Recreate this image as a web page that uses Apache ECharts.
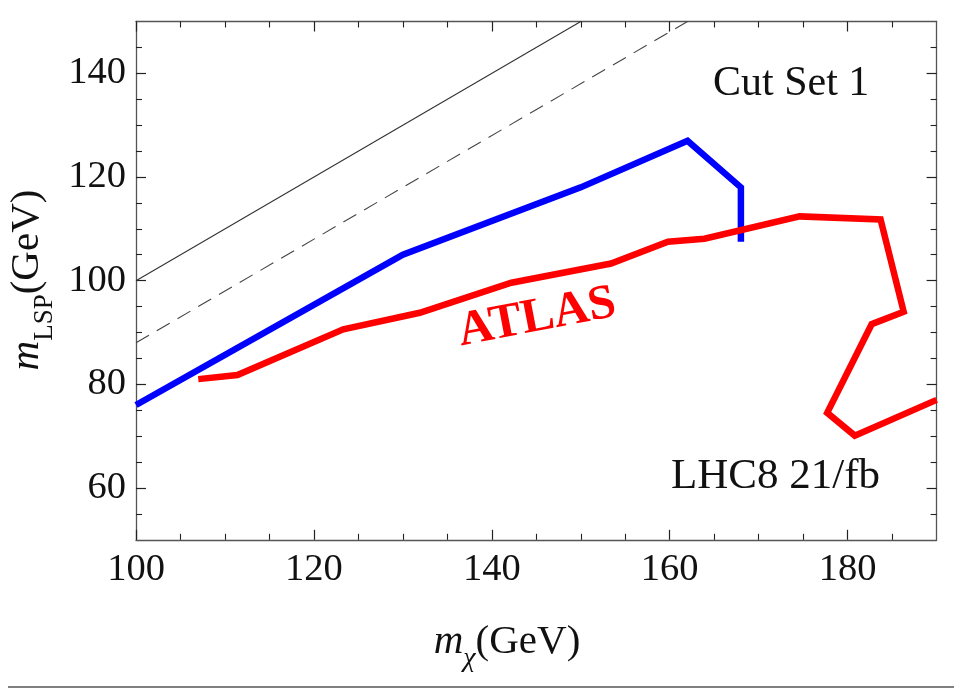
<!DOCTYPE html>
<html>
<head>
<meta charset="utf-8">
<script src="https://cdn.jsdelivr.net/npm/echarts@6/dist/echarts.min.js"></script>
<style>
  html, body { margin: 0; padding: 0; background: #fff; }
  #chart { width: 961px; height: 688px; }
</style>
</head>
<body>
<div id="chart"></div>
<script>
// Exclusion contours in the (m_chi, m_LSP) plane
const blueX = [100, 130, 150, 162, 168, 168];
const blueY = [76, 105, 118, 127, 118, 107.5];

const atlasX = [107, 111.4, 123.3, 131.9, 142.2, 153.4, 159.8, 163.9, 174.6, 183.7, 186.3, 182.7, 177.7, 180.8, 190];
const atlasY = [81, 81.8, 90.6, 93.8, 99.6, 103.3, 107.5, 108.1, 112.4, 111.8, 94, 91.6, 74.5, 70.1, 77];

// Kinematic reference lines: m_LSP = m_chi (solid) and m_LSP = m_chi - 12 (dashed)
const diagX = [100, 150];
const diagY = [100, 150];
const offsetX = [100, 162];
const offsetY = [88, 150];

// Axis ranges and tick values
const xRange = [100, 190];
const yRange = [50, 150];
const xMajor = [100, 120, 140, 160, 180];
const xMinor = [105, 110, 115, 125, 130, 135, 145, 150, 155, 165, 170, 175, 185];
const yMajor = [60, 80, 100, 120, 140];
const yMinor = [55, 65, 70, 75, 85, 90, 95, 105, 110, 115, 125, 130, 135, 145];

const pairs = (xs, ys) => xs.map((x, i) => [x, ys[i]]);

const SERIF = '"Liberation Serif", "DejaVu Serif", serif';
const FRAME = '#555';
const TICK = '#222';

function axisSet(kind, range, major, minor, positions) {
  const axes = [];
  positions.forEach((pos, p) => {
    // major ticks (with labels on the primary side)
    axes.push({
      type: 'value', position: pos, min: range[0], max: range[1],
      axisLine: { show: true, onZero: false, lineStyle: { color: FRAME, width: 1.3 } },
      axisTick: { show: true, inside: true, length: 10, customValues: major,
                  lineStyle: { color: TICK, width: 1.2 } },
      axisLabel: p === 0 ? {
        show: true, customValues: major, margin: kind === 'x' ? 11 : 10,
        fontFamily: SERIF, fontSize: 38.5, color: '#111'
      } : { show: false },
      splitLine: { show: false }
    });
    // minor ticks
    axes.push({
      type: 'value', position: pos, min: range[0], max: range[1],
      axisLine: { show: false },
      axisTick: { show: true, inside: true, length: 6, customValues: minor,
                  lineStyle: { color: TICK, width: 1.1 } },
      axisLabel: { show: false },
      splitLine: { show: false }
    });
  });
  return axes;
}

const chart = echarts.init(document.getElementById('chart'), null, { renderer: 'canvas' });

const titleRich = {
  m: { fontFamily: SERIF, fontStyle: 'italic', fontSize: 41, lineHeight: 62, fill: '#111' },
  s: { fontFamily: SERIF, fontSize: 27, lineHeight: 27, verticalAlign: 'bottom', fill: '#111' },
  si: { fontFamily: SERIF, fontStyle: 'italic', fontSize: 28, lineHeight: 28, verticalAlign: 'bottom', fill: '#111' },
  r: { fontFamily: SERIF, fontSize: 41, lineHeight: 62, fill: '#111' }
};

chart.setOption({
  animation: false,
  backgroundColor: '#ffffff',
  grid: { left: 136, right: 24.4, top: 21.5, bottom: 148.2 },
  xAxis: axisSet('x', xRange, xMajor, xMinor, ['bottom', 'top']),
  yAxis: axisSet('y', yRange, yMajor, yMinor, ['left', 'right']),
  series: [
    {
      type: 'line', name: 'diagonal', data: pairs(diagX, diagY),
      showSymbol: false, clip: true, silent: true,
      lineStyle: { color: '#333', width: 1.1 }
    },
    {
      type: 'line', name: 'offset', data: pairs(offsetX, offsetY),
      showSymbol: false, clip: true, silent: true,
      lineStyle: { color: '#444', width: 1.1, type: [15, 9] }
    },
    {
      type: 'line', name: 'Cut Set 1', data: pairs(blueX, blueY),
      showSymbol: false, clip: true,
      lineStyle: { color: '#0000ff', width: 6.5, cap: 'butt', join: 'miter' }
    },
    {
      type: 'line', name: 'ATLAS', data: pairs(atlasX, atlasY),
      showSymbol: false, clip: true,
      lineStyle: { color: '#ff0000', width: 6.5, cap: 'butt', join: 'miter' }
    }
  ],
  graphic: [
    {
      type: 'text', x: 713, y: 84,
      style: { text: 'Cut Set 1', fontFamily: SERIF, fontSize: 42, fill: '#111',
               textAlign: 'left', textVerticalAlign: 'middle' }
    },
    {
      type: 'text', x: 671, y: 477,
      style: { text: 'LHC8 21/fb', fontFamily: SERIF, fontSize: 43, fill: '#111',
               textAlign: 'left', textVerticalAlign: 'middle' }
    },
    {
      type: 'text', x: 537, y: 318, rotation: 0.19,
      style: { text: 'ATLAS', fontFamily: SERIF, fontWeight: 'bold', fontSize: 49, fill: '#ff0000',
               textAlign: 'center', textVerticalAlign: 'middle' }
    },
    {
      type: 'text', x: 507, y: 642,
      style: { text: '{m|m}{si|χ}{r|(GeV)}', rich: titleRich,
               textAlign: 'center', textVerticalAlign: 'middle' }
    },
    {
      type: 'text', x: 27, y: 280, rotation: Math.PI / 2,
      style: { text: '{m|m}{s|LSP}{r|(GeV)}', rich: titleRich,
               textAlign: 'center', textVerticalAlign: 'middle' }
    },
    {
      type: 'line', shape: { x1: 8, y1: 687, x2: 954, y2: 687 },
      style: { stroke: '#808080', lineWidth: 2 }
    }
  ]
});
</script>
</body>
</html>
